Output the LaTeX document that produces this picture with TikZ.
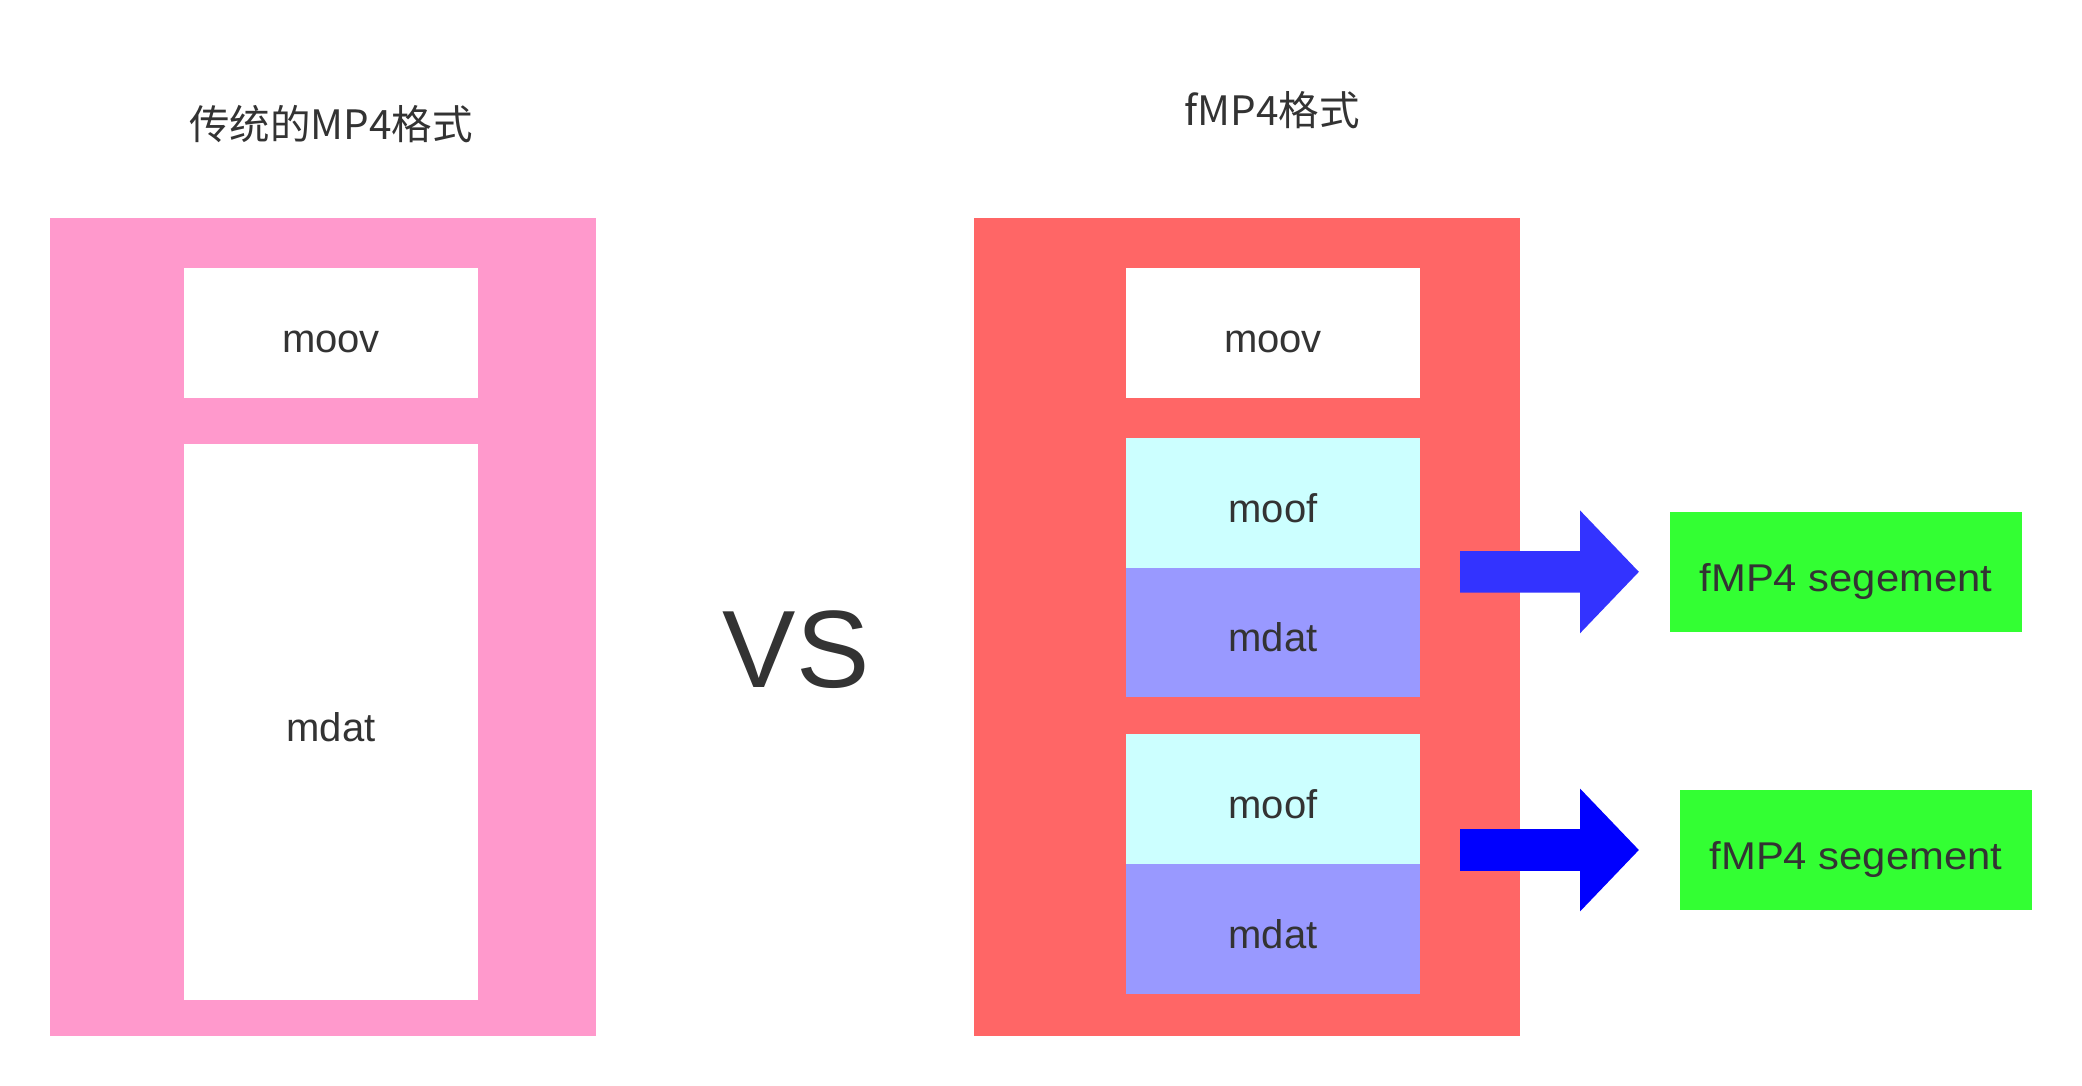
\documentclass[tikz,border=0pt]{standalone}
\usepackage{fontspec}
\setmainfont{Liberation Sans}
\newfontfamily\cjk{Noto Sans CJK SC}
\newfontfamily\segfont[FakeStretch=1.08]{Liberation Sans}
\usetikzlibrary{arrows.meta}
\definecolor{txt}{HTML}{333333}
\definecolor{pinkbg}{HTML}{FF99CC}
\definecolor{redbg}{HTML}{FF6666}
\definecolor{moofc}{HTML}{CCFFFF}
\definecolor{mdatc}{HTML}{9999FF}
\definecolor{segc}{HTML}{33FF33}
\definecolor{arrA}{HTML}{3333FF}
\definecolor{arrB}{HTML}{0000FF}
\tikzset{
  blk/.style={draw=none, inner sep=0pt, outer sep=0pt, anchor=north west, text=txt,
    font=\fontsize{40}{48}\selectfont, text height=48pt, text depth=9.6pt},
  segbox/.style={blk, fill=segc, font=\segfont\fontsize{38.7}{46}\selectfont},
  title/.style={inner sep=0pt, anchor=base, text=txt, font=\cjk\fontsize{40.5}{48}\selectfont},
  blockarrow/.style={line width=41.4pt, line cap=butt, -{Triangle[length=59pt,width=119.4pt]}}
}
\begin{document}
\begin{tikzpicture}[x=1pt,y=-1pt]
\path[use as bounding box, fill=white] (0,0) rectangle (2082,1086);
% titles
\node[title] (t1) at (331,140) {传统的MP4格式};
\node[title] (t2) at (1272,126) {fMP4格式};
% left: traditional MP4
\node[blk, fill=pinkbg, minimum width=546pt, minimum height=818pt] (mp4) at (50,218) {};
\node[blk, fill=white, minimum width=294pt, minimum height=129.7pt] (moovL) at (184,268) {moov};
\node[blk, fill=white, minimum width=294pt, minimum height=556pt] (mdatL) at (184,444) {mdat};
% VS
\node[inner sep=0pt, anchor=base, text=txt, font=\fontsize{110}{120}\selectfont] (vs) at (796,687) {VS};
% right: fMP4
\node[blk, fill=redbg, minimum width=546pt, minimum height=818pt] (fmp4) at (974,218) {};
\node[blk, fill=white, minimum width=294pt, minimum height=129.7pt] (moovR) at (1126,268) {moov};
\node[blk, fill=moofc, minimum width=294pt, minimum height=130pt] (moof1) at (1126,438) {moof};
\node[blk, fill=mdatc, minimum width=294pt, minimum height=129pt] (mdat1) at (1126,568) {mdat};
\node[blk, fill=moofc, minimum width=294pt, minimum height=130pt] (moof2) at (1126,734) {moof};
\node[blk, fill=mdatc, minimum width=294pt, minimum height=129.7pt] (mdat2) at (1126,864) {mdat};
% segments
\node[segbox, minimum width=352pt, minimum height=119.7pt] (seg1) at (1670,512) {fMP4 segement};
\node[segbox, minimum width=352pt, minimum height=120pt] (seg2) at (1680,790) {fMP4 segement};
% arrows
\coordinate (a1s) at (1460,571.85);
\coordinate (a2s) at (1460,850);
\draw[blockarrow, draw=arrA, fill=arrA] (a1s) -- ([xshift=-31pt]seg1.west);
\draw[blockarrow, draw=arrB, fill=arrB] (a2s) -- ([xshift=-41pt]seg2.west);
\end{tikzpicture}
\end{document}
